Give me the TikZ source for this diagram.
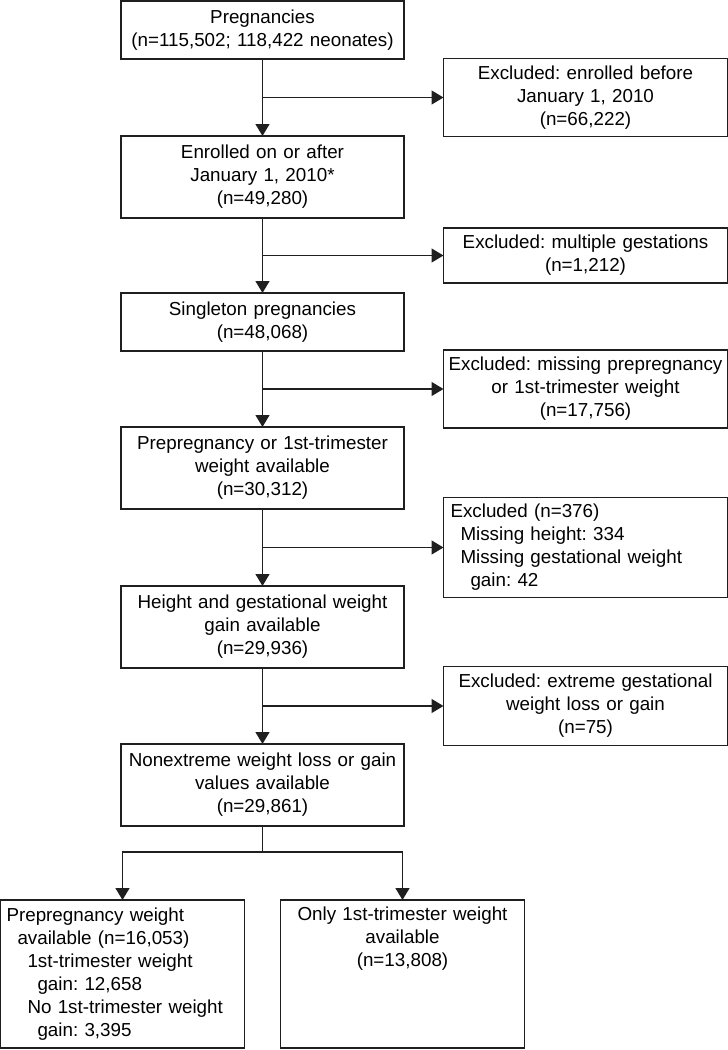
\documentclass[tikz,border=0pt]{standalone}
\usepackage{fontspec}
\setmainfont{Liberation Sans}
\frenchspacing
\usetikzlibrary{positioning,calc,arrows.meta}
\colorlet{linegray}{black!88}

\begin{document}
\begin{tikzpicture}[box/.style={rectangle, draw=linegray, line width=1.3pt, outer sep=0pt, align=center, text width=277pt, inner sep=3pt, font=\fontsize{18.8pt}{23pt}\selectfont}, excluded/.style={box, text width=278pt}, flow/.style={draw=linegray, line width=1.3pt, -{Triangle[length=12pt,width=14pt]}}]

\useasboundingbox (0,0) rectangle (728pt,-1050pt);

% MAIN FLOW

\node [box, minimum height=58pt] (pregnancies) at (262.5pt,-30pt)
{Pregnancies\\
(n=115,502; 118,422 neonates)};

\node [box, minimum height=82pt, below=77pt of pregnancies] (enrolled)
{Enrolled on or after\\
January 1, 2010*\\
(n=49,280)};

\node [box, minimum height=58pt, below=75pt of enrolled] (singleton)
{Singleton pregnancies\\
(n=48,068)};

\node [box, minimum height=82pt, below=76pt of singleton] (weightavail)
{Prepregnancy or 1st-trimester\\
weight available\\
(n=30,312)};

\node [box, minimum height=82pt, below=77pt of weightavail] (heightgain)
{Height and gestational weight\\
gain available\\
(n=29,936)};

\node [box, minimum height=82pt, below=76pt of heightgain] (nonextreme)
{Nonextreme weight loss or gain\\
values available\\
(n=29,861)};

\coordinate [below=26pt of nonextreme.south] (split);

\node [box, align=left, text width=232pt, inner xsep=6pt, minimum height=148pt, below=48pt of split, xshift=-140pt] (prepreg)
{Prepregnancy weight\\
\hspace*{11pt}available (n=16,053)\\
\hspace*{21pt}1st-trimester weight\\
\hspace*{31pt}gain: 12,658\\
\hspace*{21pt}No 1st-trimester weight\\
\hspace*{31pt}gain: 3,395};

\node [box, inner ysep=7pt, text width=238pt, below=48pt of split, xshift=140pt] (onlyfirst)
{\parbox[t][134pt][t]{238pt}{\centering Only 1st-trimester weight\\
available\\
(n=13,808)}};

% EXCLUSIONS

\coordinate (m1) at ($(pregnancies.south)!0.5!(enrolled.north)$);
\coordinate (m2) at ($(enrolled.south)!0.5!(singleton.north)$);
\coordinate (m3) at ($(singleton.south)!0.5!(weightavail.north)$);
\coordinate (m4) at ($(weightavail.south)!0.5!(heightgain.north)$);
\coordinate (m5) at ($(heightgain.south)!0.5!(nonextreme.north)$);

\node [excluded, minimum height=78pt, right=181pt of m1] (exbefore)
{Excluded: enrolled before\\
January 1, 2010\\
(n=66,222)};

\node [excluded, minimum height=55pt, right=181pt of m2] (exmultiple)
{Excluded: multiple gestations\\
(n=1,212)};

\node [excluded, minimum height=78pt, right=181pt of m3] (exmissing)
{Excluded: missing prepregnancy\\
or 1st-trimester weight\\
(n=17,756)};

\node [excluded, align=left, text width=270pt, inner xsep=7pt, minimum height=100pt, right=181pt of m4] (exheight)
{Excluded (n=376)\\
\hspace*{10pt}Missing height: 334\\
\hspace*{10pt}Missing gestational weight\\
\hspace*{20pt}gain: 42};

\node [excluded, minimum height=79pt, right=181pt of m5] (exextreme)
{Excluded: extreme gestational\\
weight loss or gain\\
(n=75)};

% ARROWS

\draw[flow] (pregnancies) -- (enrolled);
\draw[flow] (enrolled) -- (singleton);
\draw[flow] (singleton) -- (weightavail);
\draw[flow] (weightavail) -- (heightgain);
\draw[flow] (heightgain) -- (nonextreme);

\draw[flow] (m1) -- (exbefore);
\draw[flow] (m2) -- (exmultiple);
\draw[flow] (m3) -- (exmissing);
\draw[flow] (m4) -- (exheight);
\draw[flow] (m5) -- (exextreme);

\draw[draw=linegray, line width=1.3pt] (nonextreme) -- (split);
\draw[flow] (split) -| (prepreg);
\draw[flow] (split) -| (onlyfirst);

\end{tikzpicture}
\end{document}
